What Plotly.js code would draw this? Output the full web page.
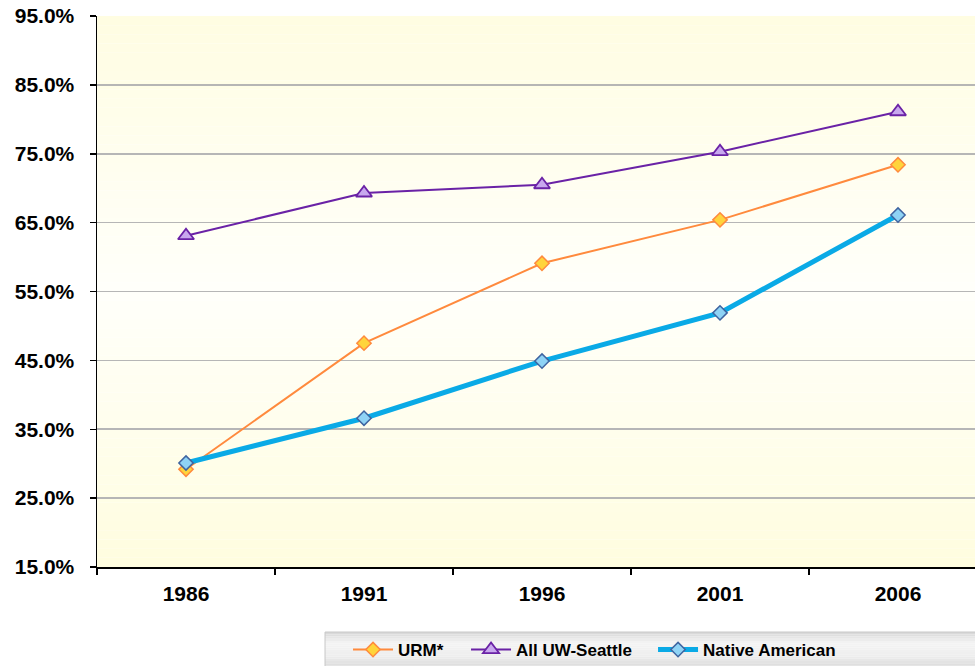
<!DOCTYPE html>
<html>
<head>
<meta charset="utf-8">
<script src="https://cdn.plot.ly/plotly-3.0.1.min.js"></script>
<style>html,body{margin:0;padding:0;background:#fff;}#chart{width:975px;height:666px;}</style>
</head>
<body>
<div id="chart"></div>
<script>
// ---- data ----
var years = ['1986', '1991', '1996', '2001', '2006'];
var urm = [0.292, 0.475, 0.591, 0.654, 0.734];
var allUW = [0.631, 0.693, 0.705, 0.753, 0.811];
var nativeAmerican = [0.301, 0.366, 0.449, 0.519, 0.661];
var yTicks = [0.15, 0.25, 0.35, 0.45, 0.55, 0.65, 0.75, 0.85, 0.95];
var yTickLabels = ['15.0%', '25.0%', '35.0%', '45.0%', '55.0%', '65.0%', '75.0%', '85.0%', '95.0%'];
var seriesNames = ['URM*', 'All UW-Seattle', 'Native American'];

// ---- styling helpers ----
function hex(c){return [parseInt(c.substr(1,2),16),parseInt(c.substr(3,2),16),parseInt(c.substr(5,2),16)];}
function mix(a,b,t){var A=hex(a),B=hex(b);return 'rgb('+A.map(function(v,i){return Math.round(v+(B[i]-v)*t);}).join(',')+')';}
function gradColor(stops,t){
  for(var i=0;i<stops.length-1;i++){
    if(t>=stops[i][0] && t<=stops[i+1][0]){
      var u=(t-stops[i][0])/(stops[i+1][0]-stops[i][0]);
      return mix(stops[i][1],stops[i+1][1],u);
    }
  }
  return stops[stops.length-1][1];
}
var shapes = [];
// plot-area vertical gradient (top -> bottom)
var bgStops = [[0,'#FFFDE2'],[0.5,'#FFFFFA'],[1,'#FFFDDF']];
var N = 60;
for (var i=0;i<N;i++){
  var t=(i+0.5)/N;
  shapes.push({type:'rect',xref:'paper',yref:'paper',x0:0,x1:1,y0:1-i/N,y1:1-(i+1)/N,
    fillcolor:gradColor(bgStops,t),line:{width:0},layer:'below'});
}
// legend box gradient
var lgTop = -0.118, lgBot = -0.215, lgLeft = 0.2597;
var lgStops = [[0,'#D6D6D6'],[0.2,'#F4F4F4'],[0.45,'#EEEEEE'],[1,'#B8B8B8']];
var M = 24;
for (var j=0;j<M;j++){
  var tt=(j+0.5)/M;
  shapes.push({type:'rect',xref:'paper',yref:'paper',x0:lgLeft,x1:1.02,
    y0:lgTop+(lgBot-lgTop)*j/M,y1:lgTop+(lgBot-lgTop)*(j+1)/M,
    fillcolor:gradColor(lgStops,tt),line:{width:0},layer:'below'});
}
shapes.push({type:'rect',xref:'paper',yref:'paper',x0:lgLeft,x1:1.02,y0:lgTop,y1:lgBot,
  fillcolor:'rgba(0,0,0,0)',line:{width:1,color:'#C8C8C8'},layer:'below'});

var font = {family:'Liberation Sans, Arial, sans-serif', size:21, color:'#000', weight:'bold'};
var legendFont = {family:'Liberation Sans, Arial, sans-serif', size:17, color:'#000', weight:'bold'};

var traces = [
  {x:years, y:urm, name:seriesNames[0], type:'scatter', mode:'lines+markers', legend:'legend',
   line:{color:'#FF8A3D', width:2},
   marker:{symbol:'diamond', size:11, color:'#FFD43B', line:{color:'#FF8A3D', width:1.5}}},
  {x:years, y:allUW, name:seriesNames[1], type:'scatter', mode:'lines+markers', legend:'legend2',
   line:{color:'#6A22A6', width:2},
   marker:{symbol:'triangle-up', size:14, color:'#C8A8EE', line:{color:'#6A22A6', width:1.8}}},
  {x:years, y:nativeAmerican, name:seriesNames[2], type:'scatter', mode:'lines+markers', legend:'legend3',
   line:{color:'#0AAAE6', width:5},
   marker:{symbol:'diamond', size:11, color:'#8FD3F5', line:{color:'#3E64A0', width:1.5}}}
];

function mkLegend(x){
  return {orientation:'h', x:x, xanchor:'left', y:lgTop, yanchor:'top',
    bgcolor:'rgba(0,0,0,0)', borderwidth:0, font:legendFont, itemwidth:40};
}

var layout = {
  width:975, height:666,
  margin:{l:97, r:0, t:16, b:99, pad:0, autoexpand:false},
  paper_bgcolor:'#FFFFFF', plot_bgcolor:'rgba(0,0,0,0)',
  font:font,
  showlegend:true,
  xaxis:{type:'category', range:[-0.5, 4.4326], tickson:'boundaries',
    ticks:'outside', ticklen:6, tickwidth:1.5, tickcolor:'#000',
    showline:true, linecolor:'#000', linewidth:1.5, showgrid:false, zeroline:false,
    tickfont:font, ticklabelstandoff:7, fixedrange:true, automargin:false},
  yaxis:{range:[0.15, 0.95], tickvals:yTicks, ticktext:yTickLabels,
    ticks:'outside', ticklen:6, tickwidth:1.5, tickcolor:'#000',
    showline:true, linecolor:'#000', linewidth:1.5,
    showgrid:true, gridcolor:'#B6B6B6', gridwidth:1.7, zeroline:false,
    tickfont:font, ticklabelstandoff:11, fixedrange:true, automargin:false},
  legend:mkLegend(0.2859),
  legend2:mkLegend(0.4203),
  legend3:mkLegend(0.6333),
  shapes:shapes
};

Plotly.newPlot('chart', traces, layout, {displayModeBar:false, staticPlot:true});
</script>
</body>
</html>
